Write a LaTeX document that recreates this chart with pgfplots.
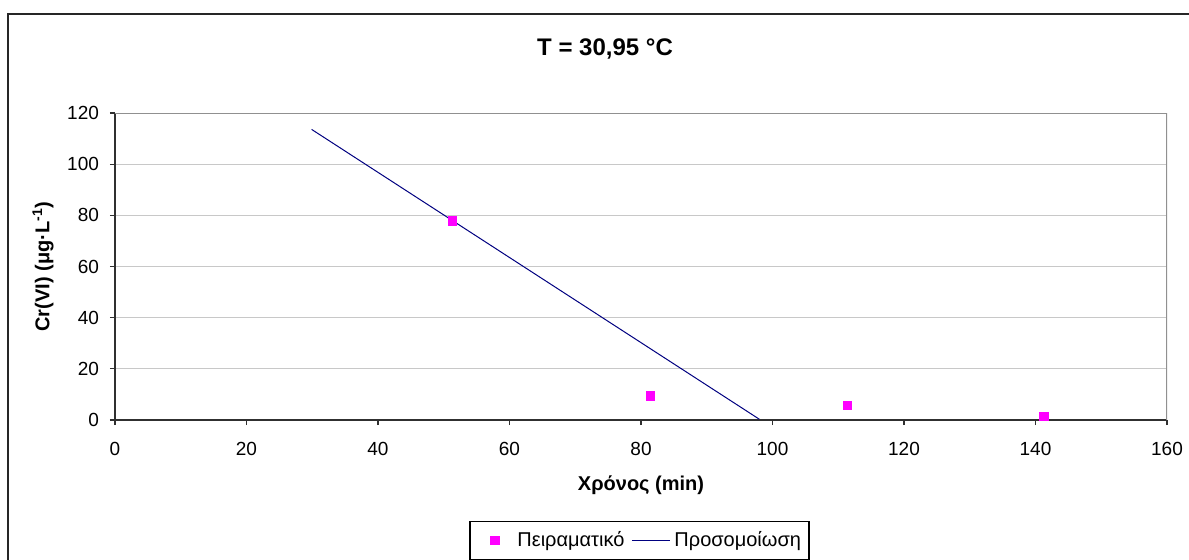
\documentclass[border=0pt]{standalone}
\usepackage{fontspec}
\setmainfont{Liberation Sans}
\usepackage{pgfplots}
\pgfplotsset{compat=1.18}
\definecolor{Navy}{HTML}{000080}
\definecolor{Magenta}{HTML}{FF00FF}
\definecolor{GridGray}{HTML}{C8C8C8}
\definecolor{BoxGray}{HTML}{909090}
\definecolor{AxisDark}{HTML}{303030}

\begin{document}
\begin{tikzpicture}
% picture = 1189 x 559 px, 1 px = 0.5pt, origin bottom left
\useasboundingbox (0pt,0pt) rectangle (594.5pt,279.5pt);
\begin{scope}
  \clip (0pt,0pt) rectangle (594.5pt,279.5pt);
  \draw[line width=0.9pt,draw=black!85] (4pt,-10pt) rectangle (605pt,272.5pt);
\end{scope}
\begin{axis}[
  at={(57.5pt,69.5pt)},anchor=origin,
  scale only axis,
  width=526pt,height=153.5pt,
  xmin=0,xmax=160,ymin=0,ymax=120,
  xtick={0,20,...,160},
  ytick={0,20,...,120},
  axis x line*=bottom,
  axis y line*=left,
  axis line style={-,draw=AxisDark,line width=0.6pt},
  tick align=outside,
  major tick length=2.5pt,
  tick style={draw=AxisDark,line width=0.6pt},
  ymajorgrids,
  grid style={draw=GridGray,line width=0.5pt},
  /pgf/number format/assume math mode=true,
  ticklabel style={font=\fontsize{9.5}{11}\selectfont},
  xticklabel style={yshift=-5pt},
  yticklabel style={xshift=-2pt},
  title={\bfseries T = 30,95 °C},
  title style={font=\fontsize{12}{14}\selectfont,at={(axis description cs:0.4658,1.170)},anchor=center},
  xlabel={\bfseries Χρόνος (min)},
  xlabel style={font=\fontsize{10}{12}\selectfont,at={(axis description cs:0.5,-0.2117)},anchor=center},
  ylabel={\bfseries Cr(VI) (μg·L\textsuperscript{-1})},
  ylabel style={font=\fontsize{10}{12}\selectfont,at={(axis description cs:-0.0684,0.5)},anchor=center},
  legend columns=2,
  legend style={at={(axis description cs:0.4986,-0.3925)},anchor=center,
    draw=black,line width=0.6pt,font=\fontsize{10}{12}\selectfont,
    inner xsep=2pt,inner ysep=3pt,
    /tikz/every odd column/.append style={column sep=0pt},
    /tikz/every even column/.append style={column sep=1.5pt}},
  legend image code/.code={\draw[#1] (0pt,0pt) -- (19pt,0pt);},
]
\draw[draw=BoxGray,line width=0.6pt] (rel axis cs:0,1) -- (rel axis cs:1,1) -- (rel axis cs:1,0);
\addplot[only marks,mark=square*,mark size=2.1pt,color=Magenta,
  legend image code/.code={\path[draw=none,fill=none] (-10.5pt,0pt) -- (9.2pt,0pt);
    \draw plot coordinates {(0pt,0pt)};}]
  coordinates {(51.3,77.8) (81.4,9.4) (111.4,5.6) (141.3,1.3)};
\addlegendentry{Πειραματικό}
\addplot[color=Navy,line width=0.5pt,no marks]
  coordinates {(29.9,113.6) (98.0,0.3)};
\addlegendentry{Προσομοίωση}
\end{axis}
\end{tikzpicture}
\end{document}
